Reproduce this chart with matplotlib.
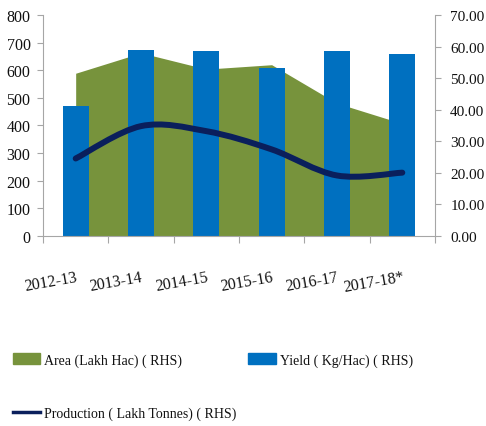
import numpy as np
import matplotlib.pyplot as plt
from matplotlib.path import Path
from matplotlib.patches import Patch, PathPatch
from matplotlib.lines import Line2D

# values
years = ["2012-13", "2013-14", "2014-15", "2015-16", "2016-17", "2017-18*"]
area = [590, 664, 605, 621, 481, 407]           # left axis
yield_kg = [472, 676, 670, 608, 670, 659]       # left axis
production = [24.5, 34.8, 33.2, 27.4, 19.1, 20.0]  # right axis

green = "#77933C"
blue = "#0070C0"
navy = "#0A1F5C"
grey = "#A6A6A6"
txt = "#111111"

plt.rcParams['font.family'] = ['Liberation Serif', 'DejaVu Serif']


def smooth_path(xs, ys):
    """Excel-style smoothed line: cubic Bezier segments through the points."""
    pts = np.column_stack([xs, ys]).astype(float)
    n = len(pts)
    verts = [pts[0]]
    codes = [Path.MOVETO]
    for i in range(n - 1):
        p0 = pts[i - 1] if i > 0 else pts[i]
        p1 = pts[i]
        p2 = pts[i + 1]
        p3 = pts[i + 2] if i + 2 < n else pts[i + 1]
        c1 = p1 + (p2 - p0) / 6
        c2 = p2 - (p3 - p1) / 6
        verts += [c1, c2, p2]
        codes += [Path.CURVE4] * 3
    return Path(verts, codes)


fig = plt.figure(figsize=(4.86, 4.27), dpi=100)
ax = fig.add_axes([0.0885, 0.4461, 0.8065, 0.5153])
ax2 = ax.twinx()

x = np.arange(len(years))
ax.fill_between(x, area, 0, color=green, lw=0, zorder=1)
ax.bar(x, yield_kg, width=0.4, color=blue, zorder=2)

ax2.add_patch(PathPatch(smooth_path(x, production), fill=False,
                        edgecolor=navy, lw=4.3, capstyle='round', zorder=3))

ax.set_xlim(-0.5, 5.5)
ax.set_ylim(0, 800)
ax2.set_ylim(0, 70)
ax.set_yticks(range(0, 801, 100))
ax2.set_yticks(range(0, 71, 10))
ax2.set_yticklabels([f"{v:.2f}" for v in range(0, 71, 10)])

# ticks on category boundaries, labels under the centres
ax.set_xticks(np.arange(-0.5, 6, 1))
ax.set_xticklabels([])
ax.set_xticks(x, minor=True)
ax.set_xticklabels(years, minor=True, rotation=10, ha='right',
                   va='top', rotation_mode='anchor')
ax.tick_params(axis='x', which='minor', length=0, pad=24, labelsize=11.5,
               labelcolor=txt)
ax.tick_params(axis='x', which='major', length=5, color=grey, direction='out')
ax.tick_params(axis='y', length=4, color=grey, labelsize=11.5,
               labelcolor=txt, pad=5)
ax2.tick_params(axis='y', length=4, color=grey, labelsize=11,
                labelcolor=txt, pad=7)

for a in (ax, ax2):
    a.spines['top'].set_visible(False)
    for side in ('left', 'right', 'bottom'):
        a.spines[side].set_color(grey)
ax.spines['right'].set_visible(False)
ax2.spines['left'].set_visible(False)
ax2.spines['bottom'].set_visible(False)

handles = [Patch(color=green, label="Area (Lakh Hac) ( RHS)"),
           Line2D([], [], color=navy, lw=2.5, label="Production ( Lakh Tonnes) ( RHS)"),
           Patch(color=blue, label="Yield ( Kg/Hac) ( RHS)")]
fig.legend(handles=handles, ncol=2, loc='upper left',
           bbox_to_anchor=(0.0, 0.20), frameon=False, fontsize=10,
           labelcolor=txt, handlelength=2.0, handleheight=0.75,
           handletextpad=0.3, labelspacing=2.85, columnspacing=0.8)

fig.savefig("out.png", dpi=100)
